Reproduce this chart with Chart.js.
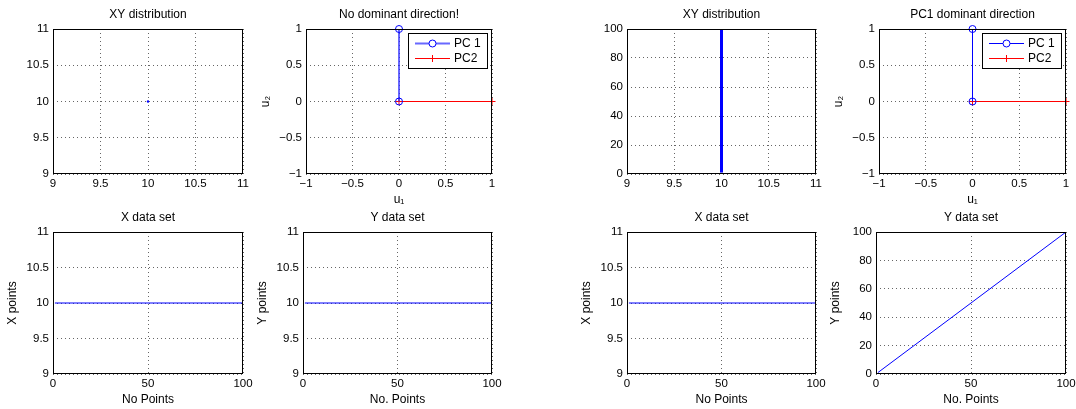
<!DOCTYPE html>
<html>
<head>
<meta charset="utf-8">
<title>PCA subplots</title>
<script src="https://cdn.jsdelivr.net/npm/chart.js@4.4.1/dist/chart.umd.min.js"></script>
<style>
    html, body { margin: 0; padding: 0; background: #fff; overflow: hidden; }
    #wrap { position: relative; width: 1076px; height: 409px; }
    #wrap canvas { position: absolute; }
</style>
</head>
<body>
<div id="wrap"></div>
<script>
// ---- data ----
// left half: single point cloud at (10, 10)
const xyLeftX = [10];
const xyLeftY = [10];
// principal components (same in both halves)
const pc1U1 = [0, 0];
const pc1U2 = [0, 1];
const pc2U1 = [0, 1];
const pc2U2 = [0, 0];
// left half data sets
const xSetLeftN = [1, 100];
const xSetLeftV = [10, 10];
const ySetLeftN = [1, 100];
const ySetLeftV = [10, 10];
// right half
const xyRightX = [10, 10];
const xyRightY = [1, 100];
const xSetRightN = [1, 100];
const xSetRightV = [10, 10];
const ySetRightN = [1, 100];
const ySetRightV = [1, 100];

// tick labels
const ticksAround10 = [9, 9.5, 10, 10.5, 11];
const ticksUnit = [-1, -0.5, 0, 0.5, 1];
const ticksPoints = [0, 50, 100];
const ticksHundred = [0, 20, 40, 60, 80, 100];

// ---- layout ----
const YW = 60;   // y axis block width
const XH = 36;   // x axis block height
const TH = 27;   // title block height
const PR = 14;   // right room for last tick label

const FONT = '"Liberation Sans", Arial, Helvetica, sans-serif';
Chart.defaults.font.family = FONT;
Chart.defaults.color = '#000';

const fmt = v => String(v).replace('-', '\u2212');

function pts(xs, ys) {
    return xs.map((x, i) => ({ x: x, y: ys[i] }));
}

function axis(pos, min, max, tickVals, title) {
    const bottom = pos === 'bottom';
    return {
        type: 'linear',
        position: pos,
        min: min,
        max: max,
        afterBuildTicks: s => { s.ticks = tickVals.map(v => ({ value: v })); },
        afterFit: s => {
            if (bottom) { s.height = XH; s.paddingLeft = 0; s.paddingRight = 0; }
            else { s.width = YW; s.paddingTop = 0; s.paddingBottom = 0; }
        },
        grid: { color: 'rgba(0,0,0,0.6)', lineWidth: 1, drawTicks: false },
        border: { display: false, dash: [1, 3] },
        ticks: {
            color: '#000',
            font: { size: 11.5 },
            padding: bottom ? 3 : 4,
            maxRotation: 0,
            autoSkip: false,
            callback: v => fmt(v)
        },
        title: {
            display: !!title,
            text: title || '',
            color: '#000',
            font: { size: 12 },
            padding: bottom ? { top: 0, bottom: 3 } : { top: 12, bottom: 0 }
        }
    };
}

// black box round the plot area
const axesBox = {
    id: 'axesBox',
    afterDatasetsDraw(chart) {
        const { ctx, chartArea: a } = chart;
        ctx.save();
        ctx.strokeStyle = '#000';
        ctx.lineWidth = 1;
        ctx.strokeRect(Math.round(a.left) + 0.5, Math.round(a.top) + 0.5,
            Math.round(a.right - a.left) - 1, Math.round(a.bottom - a.top) - 1);
        ctx.restore();
    }
};

// matlab style legend: line + marker, boxed, top right inside the axes
const boxLegend = {
    id: 'boxLegend',
    afterDraw(chart, args, opts) {
        if (!opts.show) return;
        const { ctx, chartArea: a } = chart;
        const w = 79, h = 35;
        const x0 = Math.round(a.right) - 5 - w;
        const y0 = Math.round(a.top) + 4;
        ctx.save();
        ctx.fillStyle = '#fff';
        ctx.fillRect(x0, y0, w, h);
        ctx.strokeStyle = '#000';
        ctx.lineWidth = 1;
        ctx.strokeRect(x0 + 0.5, y0 + 0.5, w, h);
        ctx.font = '12px ' + FONT;
        ctx.textBaseline = 'middle';
        chart.data.datasets.forEach((ds, i) => {
            const y = y0 + 10.5 + i * 15;
            const mx = x0 + 24.5;
            ctx.strokeStyle = ds.borderColor;
            ctx.lineWidth = ds.borderWidth;
            ctx.beginPath();
            ctx.moveTo(x0 + 7, y);
            ctx.lineTo(x0 + 42, y);
            ctx.stroke();
            ctx.strokeStyle = ds.pointBorderColor;
            ctx.lineWidth = 1;
            ctx.beginPath();
            if (ds.pointStyle === 'circle') {
                ctx.fillStyle = '#fff';
                ctx.arc(mx, y, 3.5, 0, Math.PI * 2);
                ctx.fill();
            } else {
                ctx.moveTo(mx - 3.5, y); ctx.lineTo(mx + 3.5, y);
                ctx.moveTo(mx, y - 3.5); ctx.lineTo(mx, y + 3.5);
            }
            ctx.stroke();
            ctx.fillStyle = '#000';
            ctx.fillText(ds.label, x0 + 46, y + 0.5);
        });
        ctx.restore();
    }
};

function lineSet(label, data, color, width) {
    return {
        label: label,
        data: data,
        showLine: true,
        borderColor: color,
        borderWidth: width,
        pointRadius: 0,
        fill: false,
        tension: 0
    };
}

function pcSets(pc1Color, pc1Width) {
    return [
        {
            label: 'PC 1',
            data: pts(pc1U1, pc1U2),
            showLine: true,
            borderColor: pc1Color,
            borderWidth: pc1Width,
            pointStyle: 'circle',
            pointRadius: 3.5,
            pointBorderColor: 'rgb(0,0,255)',
            pointBackgroundColor: 'rgba(0,0,0,0)',
            pointBorderWidth: 1,
            clip: false
        },
        {
            label: 'PC2',
            data: pts(pc2U1, pc2U2),
            showLine: true,
            borderColor: 'rgb(255,0,0)',
            borderWidth: 1,
            pointStyle: 'crossRot',
            pointRotation: 45,
            pointRadius: 3.5,
            pointBorderColor: 'rgb(255,0,0)',
            pointBorderWidth: 1,
            clip: false
        }
    ];
}

function makePanel(box, cfg) {
    const c = document.createElement('canvas');
    const w = box.R - box.L + YW + PR;
    const h = box.B - box.T + TH + XH;
    c.width = w;
    c.height = h;
    c.style.width = w + 'px';
    c.style.height = h + 'px';
    c.style.left = (box.L - YW) + 'px';
    c.style.top = (box.T - TH) + 'px';
    document.getElementById('wrap').appendChild(c);

    return new Chart(c.getContext('2d'), {
        type: 'scatter',
        data: { datasets: cfg.datasets },
        options: {
            responsive: false,
            animation: false,
            events: [],
            devicePixelRatio: 1,
            layout: { padding: { left: 0, top: 0, right: PR, bottom: 0 } },
            plugins: {
                legend: { display: false },
                tooltip: { enabled: false },
                boxLegend: { show: !!cfg.legend },
                title: {
                    display: true,
                    text: cfg.title,
                    color: '#000',
                    fullSize: false,
                    font: { size: 12, weight: 'normal', lineHeight: '14px' },
                    padding: { top: 6, bottom: 7 }
                }
            },
            scales: {
                x: axis('bottom', cfg.x[0], cfg.x[1], cfg.x[2], cfg.x[3]),
                y: axis('left', cfg.y[0], cfg.y[1], cfg.y[2], cfg.y[3])
            }
        },
        plugins: [axesBox, boxLegend]
    });
}

// top row
makePanel({ L: 53, T: 29, R: 243, B: 174 }, {
    title: 'XY distribution',
    x: [9, 11, ticksAround10],
    y: [9, 11, ticksAround10],
    datasets: [{
        label: 'XY',
        data: pts(xyLeftX, xyLeftY),
        pointRadius: 1.2,
        pointBorderWidth: 0,
        pointBackgroundColor: 'rgb(0,0,255)'
    }]
});

makePanel({ L: 306, T: 29, R: 492, B: 174 }, {
    title: 'No dominant direction!',
    legend: true,
    x: [-1, 1, ticksUnit, 'u\u2081'],
    y: [-1, 1, ticksUnit, 'u\u2082'],
    datasets: pcSets('rgba(40,40,255,0.7)', 2)
});

makePanel({ L: 627, T: 29, R: 816, B: 174 }, {
    title: 'XY distribution',
    x: [9, 11, ticksAround10],
    y: [0, 100, ticksHundred],
    datasets: [lineSet('XY', pts(xyRightX, xyRightY), 'rgb(0,0,255)', 3)]
});

makePanel({ L: 879, T: 29, R: 1066, B: 174 }, {
    title: 'PC1 dominant direction',
    legend: true,
    x: [-1, 1, ticksUnit, 'u\u2081'],
    y: [-1, 1, ticksUnit, 'u\u2082'],
    datasets: pcSets('rgb(0,0,255)', 1)
});

// bottom row
makePanel({ L: 53, T: 232, R: 243, B: 374 }, {
    title: 'X data set',
    x: [0, 100, ticksPoints, 'No Points'],
    y: [9, 11, ticksAround10, 'X points'],
    datasets: [lineSet('X', pts(xSetLeftN, xSetLeftV), 'rgb(0,0,255)', 1.2)]
});

makePanel({ L: 303, T: 232, R: 492, B: 374 }, {
    title: 'Y data set',
    x: [0, 100, ticksPoints, 'No. Points'],
    y: [9, 11, ticksAround10, 'Y points'],
    datasets: [lineSet('Y', pts(ySetLeftN, ySetLeftV), 'rgb(0,0,255)', 1.2)]
});

makePanel({ L: 627, T: 232, R: 816, B: 374 }, {
    title: 'X data set',
    x: [0, 100, ticksPoints, 'No Points'],
    y: [9, 11, ticksAround10, 'X points'],
    datasets: [lineSet('X', pts(xSetRightN, xSetRightV), 'rgb(0,0,255)', 1.2)]
});

makePanel({ L: 876, T: 232, R: 1066, B: 374 }, {
    title: 'Y data set',
    x: [0, 100, ticksPoints, 'No. Points'],
    y: [0, 100, ticksHundred, 'Y points'],
    datasets: [lineSet('Y', pts(ySetRightN, ySetRightV), 'rgb(0,0,255)', 1)]
});
</script>
</body>
</html>
